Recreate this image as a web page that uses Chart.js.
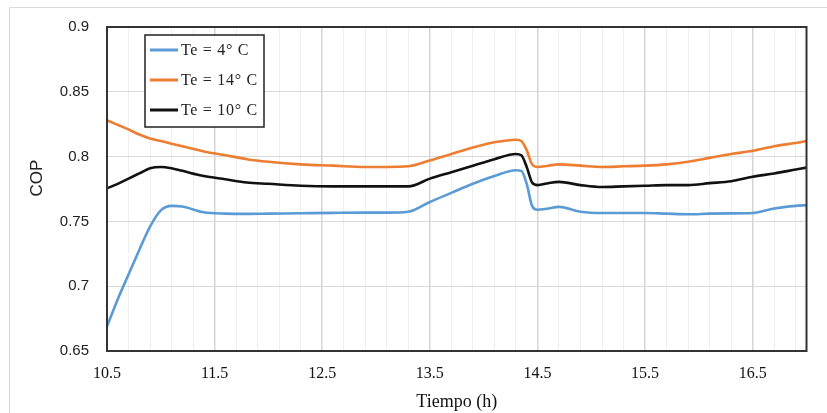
<!DOCTYPE html>
<html lang="es">
<head>
<meta charset="UTF-8">
<title>COP vs Tiempo</title>
<script src="https://cdn.jsdelivr.net/npm/chart.js"></script>
<style>
  html, body { margin: 0; padding: 0; background: #ffffff; }
  #wrap { width: 827px; height: 413px; position: relative; }
</style>
</head>
<body>
<div id="wrap"><canvas id="copChart" width="827" height="413"></canvas></div>
<script>
// Datos
const tiempo = [10.5, 10.6, 10.7, 10.8, 10.9, 11.0, 11.1, 11.2, 11.4, 11.6, 11.8, 12.0,
  12.3, 12.6, 12.9, 13.1, 13.3, 13.5, 13.7, 13.9, 14.1, 14.3, 14.35, 14.4, 14.45, 14.5,
  14.6, 14.7, 14.9, 15.1, 15.3, 15.5, 15.7, 15.9, 16.1, 16.3, 16.5, 16.7, 16.9, 17.0];

const copTe4 = [0.669, 0.690, 0.709, 0.728, 0.746, 0.7585, 0.762, 0.7615, 0.757, 0.756, 0.7558, 0.756,
  0.7563, 0.7566, 0.7568, 0.7568, 0.7575, 0.765, 0.772, 0.779, 0.785, 0.7895, 0.789, 0.779, 0.762, 0.759,
  0.760, 0.7612, 0.7575, 0.7565, 0.7565, 0.7565, 0.756, 0.7555, 0.756, 0.7562, 0.7565, 0.760, 0.762, 0.7625];

const copTe14 = [0.828, 0.8245, 0.821, 0.817, 0.814, 0.812, 0.810, 0.808, 0.804, 0.801, 0.798, 0.796,
  0.794, 0.793, 0.792, 0.792, 0.7925, 0.797, 0.802, 0.807, 0.811, 0.813, 0.812, 0.805, 0.794, 0.792,
  0.793, 0.794, 0.793, 0.792, 0.7925, 0.793, 0.794, 0.796, 0.799, 0.802, 0.8045, 0.808, 0.8105, 0.812];

const copTe10 = [0.7755, 0.779, 0.783, 0.787, 0.791, 0.792, 0.791, 0.789, 0.785, 0.7825, 0.780, 0.779,
  0.7775, 0.777, 0.777, 0.777, 0.777, 0.783, 0.788, 0.793, 0.798, 0.802, 0.801, 0.792, 0.780, 0.778,
  0.7795, 0.7805, 0.778, 0.7765, 0.777, 0.7775, 0.778, 0.778, 0.7795, 0.781, 0.7845, 0.787, 0.790, 0.7915];

const seriesLabels = ['Te = 4° C', 'Te = 14° C', 'Te = 10° C'];

// Marcas de los ejes
const xMajorTicks = [10.5, 11.5, 12.5, 13.5, 14.5, 15.5, 16.5];
const xTickLabels = ['10.5', '11.5', '12.5', '13.5', '14.5', '15.5', '16.5'];
const xMinorStep = 0.2;
const yTicks = [0.65, 0.7, 0.75, 0.8, 0.85, 0.9];
const yTickLabels = ['0.65', '0.7', '0.75', '0.8', '0.85', '0.9'];

const serif = '"Liberation Serif", "DejaVu Serif", serif';
const sans = '"Liberation Sans", Arial, sans-serif';

const toPoints = values => tiempo.map((t, i) => ({ x: t, y: values[i] }));

function isMajor(v) {
  return xMajorTicks.some(m => Math.abs(m - v) < 1e-6);
}

// Marco exterior gris claro, borde del área de trazado, título COP y leyenda dentro del área
const framePlugin = {
  id: 'framePlugin',
  beforeDraw(chart) {
    const ctx = chart.ctx;
    ctx.save();
    ctx.strokeStyle = '#d9d9d9';
    ctx.lineWidth = 1;
    ctx.beginPath();
    ctx.moveTo(9.5, 413);
    ctx.lineTo(9.5, 7.5);
    ctx.lineTo(827, 7.5);
    ctx.stroke();
    ctx.restore();
  },
  afterDraw(chart) {
    const ctx = chart.ctx;
    const a = chart.chartArea;
    ctx.save();
    ctx.strokeStyle = '#333333';
    ctx.lineWidth = 2;
    ctx.strokeRect(a.left, a.top, a.right - a.left, a.bottom - a.top);

    // título del eje Y
    ctx.save();
    ctx.translate(37, 178);
    ctx.rotate(-Math.PI / 2);
    ctx.fillStyle = '#222222';
    ctx.font = '17px ' + sans;
    ctx.textAlign = 'center';
    ctx.textBaseline = 'middle';
    ctx.fillText('COP', 0, 0);
    ctx.restore();

    // leyenda
    const bx = 145, by = 35, bw = 119, bh = 92;
    ctx.fillStyle = '#ffffff';
    ctx.fillRect(bx, by, bw, bh);
    ctx.strokeStyle = '#222222';
    ctx.lineWidth = 1.5;
    ctx.strokeRect(bx, by, bw, bh);
    ctx.font = '16px ' + serif;
    ctx.letterSpacing = '0.7px';
    ctx.textBaseline = 'middle';
    chart.data.datasets.forEach((ds, i) => {
      const y = 50 + i * 30;
      ctx.strokeStyle = ds.borderColor;
      ctx.lineWidth = 3;
      ctx.beginPath();
      ctx.moveTo(150, y);
      ctx.lineTo(178, y);
      ctx.stroke();
      ctx.fillStyle = '#222222';
      ctx.fillText(ds.label, 181, y + 1);
    });
    ctx.restore();
  }
};

const ctx = document.getElementById('copChart').getContext('2d');
new Chart(ctx, {
  type: 'line',
  data: {
    datasets: [
      { label: seriesLabels[0], data: toPoints(copTe4), borderColor: '#5b9bd5' },
      { label: seriesLabels[1], data: toPoints(copTe14), borderColor: '#ed7d31' },
      { label: seriesLabels[2], data: toPoints(copTe10), borderColor: '#111111' }
    ]
  },
  options: {
    responsive: false,
    animation: false,
    datasets: {
      line: {
        borderWidth: 2.6,
        pointRadius: 0,
        fill: false,
        cubicInterpolationMode: 'monotone'
      }
    },
    layout: { padding: { left: 0, top: 26.5, right: 20.5, bottom: 0 } },
    plugins: {
      legend: { display: false },
      tooltip: { enabled: false }
    },
    scales: {
      x: {
        type: 'linear',
        min: 10.5,
        max: 17,
        afterBuildTicks(scale) {
          const ticks = [];
          for (let v = 10.5; v < 17 - 1e-6; v += xMinorStep) {
            ticks.push({ value: Math.round(v * 10) / 10 });
          }
          scale.ticks = ticks;
        },
        afterFit(scale) { scale.height = 62; },
        grid: {
          drawTicks: false,
          color: c => (c.tick && isMajor(c.tick.value)) ? '#d4d4d4' : '#efefef',
          lineWidth: c => (c.tick && isMajor(c.tick.value)) ? 1.5 : 1
        },
        border: { display: false },
        ticks: {
          autoSkip: false,
          maxRotation: 0,
          padding: 13,
          color: '#111111',
          font: { family: serif, size: 16 },
          callback: value => {
            const i = xMajorTicks.findIndex(m => Math.abs(m - value) < 1e-6);
            return i >= 0 ? xTickLabels[i] : '';
          }
        },
        title: {
          display: true,
          text: 'Tiempo (h)',
          color: '#111111',
          padding: 0,
          font: { family: serif, size: 18 }
        }
      },
      y: {
        min: 0.65,
        max: 0.9,
        afterBuildTicks(scale) {
          scale.ticks = yTicks.map(v => ({ value: v }));
        },
        afterFit(scale) { scale.width = 107; },
        grid: { drawTicks: false, color: '#d9d9d9', lineWidth: 1 },
        border: { display: false },
        ticks: {
          padding: 18,
          color: '#222222',
          font: { family: sans, size: 15 },
          callback: value => {
            const i = yTicks.findIndex(t => Math.abs(t - value) < 1e-6);
            return i >= 0 ? yTickLabels[i] : '';
          }
        }
      }
    }
  },
  plugins: [framePlugin]
});
</script>
</body>
</html>
